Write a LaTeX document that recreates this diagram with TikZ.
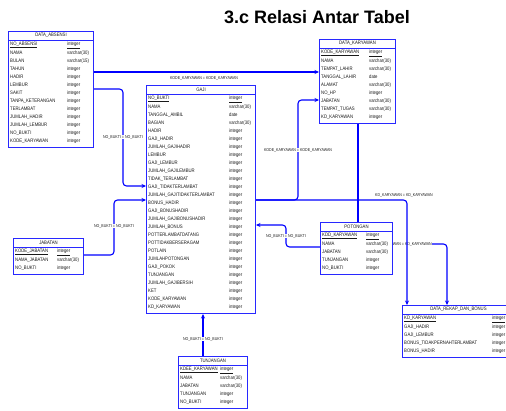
\documentclass[tikz,border=0pt]{standalone}
\usepackage{fontspec}
\setmainfont{Liberation Sans}
\newfontfamily\tf[FakeStretch=0.85]{Liberation Sans}
\usetikzlibrary{arrows.meta,calc,backgrounds}
\definecolor{erblue}{RGB}{0,0,255}
\definecolor{boxblue}{RGB}{40,40,255}
\tikzset{
 tbox/.style={draw=boxblue, line width=1pt, fill=white, inner sep=0pt, rectangle, anchor=north west},
 hline/.style={draw=boxblue, line width=0.7pt},
 cell/.style={font=\tf\fontsize{5}{5}\selectfont, inner sep=0pt, anchor=west, text=black!90},
 head/.style={cell, anchor=center},
 conn/.style={draw=erblue, line width=1.1pt, rounded corners=3.5pt},
 arr/.style={-{Stealth[length=4.5pt,width=4pt]}},
 rel/.style={font=\tf\fontsize{4.2}{4.2}\selectfont, inner sep=0.6pt, text=black!90},
 relbg/.style={rel, fill=white},
 ttl/.style={font=\bfseries\fontsize{18}{18}\selectfont, inner sep=0pt},
}
\newcommand\dbtable[8]{%
  \pgfmathsetmacro\tabh{14+8*(#5-1)+6}
  \node[tbox, minimum width=#4pt, minimum height=\tabh pt] (#1) at (#2,#3) {};
  \draw[hline] ([yshift=-9pt]#1.north west) -- ([yshift=-9pt]#1.north east);
  \node[head] (#1-title) at ([yshift=-4.7pt]#1.north) {#6};
  \foreach [count=\i] \n/\t in {#8} {
    \node[cell] (#1-n\i) at ([xshift=2pt,yshift={-14pt-8pt*(\i-1)}]#1.north west) {\n};
    \node[cell] (#1-t\i) at ([xshift=#7pt,yshift={-14pt-8pt*(\i-1)}]#1.north west) {\t};
  }
}
\begin{document}
\begin{tikzpicture}[x=1pt,y=-1pt]
\useasboundingbox (0,0) rectangle (506,410);

\node[ttl] (title) at (317,17) {3.c Relasi Antar Tabel};

\dbtable{absensi}{8}{31}{85}{13}{DATA\_ABSENSI}{59}{%
 \underline{NO\_ABSENSI}/\underline{integer}, NAMA/varchar(30), BULAN/varchar(15), TAHUN/integer, HADIR/integer, LEMBUR/integer, SAKIT/integer, TANPA\_KETERANGAN/integer, TERLAMBAT/integer, JUMLAH\_HADIR/integer, JUMLAH\_LEMBUR/integer, NO\_BUKTI/integer, KODE\_KARYAWAN/integer}

\dbtable{gaji}{146}{85}{109}{27}{GAJI}{83}{%
 \underline{NO\_BUKTI}/\underline{integer}, NAMA/varchar(30), TANGGAL\_AMBIL/date, BAGIAN/varchar(30), HADIR/integer, GAJI\_HADIR/integer, JUMLAH\_GAJIHADIR/integer, LEMBUR/integer, GAJI\_LEMBUR/integer, JUMLAH\_GAJILEMBUR/integer, TIDAK\_TERLAMBAT/integer, GAJI\_TIDAKTERLAMBAT/integer, JUMLAH\_GAJITIDAKTERLAMBAT/integer, BONUS\_HADIR/integer, GAJI\_BONUSHADIR/integer, JUMLAH\_GAJIBONUSHADIR/integer, JUMLAH\_BONUS/integer, POTTERLAMBATDATANG/integer, POTTIDAKBERSERAGAM/integer, POTLAIN/integer, JUMLAHPOTONGAN/integer, GAJI\_POKOK/integer, TUNJANGAN/integer, JUMLAH\_GAJIBERSIH/integer, KET/integer, KODE\_KARYAWAN/integer, KD\_KARYAWAN/integer}

\dbtable{karyawan}{319}{39}{76}{9}{DATA\_KARYAWAN}{50}{%
 \underline{KODE\_KARYAWAN}/\underline{integer}, NAMA/varchar(30), TEMPAT\_LAHIR/varchar(30), TANGGAL\_LAHIR/date, ALAMAT/varchar(30), NO\_HP/integer, JABATAN/varchar(30), TEMPAT\_TUGAS/varchar(30), KD\_KARYAWAN/integer}

\dbtable{potongan}{320}{222}{72}{5}{POTONGAN}{46}{%
 \underline{KDD\_KARYAWAN}/\underline{integer}, NAMA/varchar(30), JABATAN/varchar(30), TUNJANGAN/integer, NO\_BUKTI/integer}

\dbtable{jabatan}{13}{238}{70}{3}{JABATAN}{44}{%
 \underline{KODE\_JABATAN}/\underline{integer}, NAMA\_JABATAN/varchar(30), NO\_BUKTI/integer}

\dbtable{rekap}{402}{305}{112}{5}{DATA\_REKAP\_DAN\_BONUS}{90}{%
 \underline{KD\_KARYAWAN}/\underline{integer}, GAJI\_HADIR/integer, GAJI\_LEMBUR/integer, BONUS\_TIDAKPERNAHTERLAMBAT/integer, BONUS\_HADIR/integer}

\dbtable{tunjangan}{178}{356}{69}{5}{TUNJANGAN}{42}{%
 \underline{KDEE\_KARYAWAN}/\underline{integer}, NAMA/varchar(30), JABATAN/varchar(30), TUNJANGAN/integer, NO\_BUKTI/integer}

\begin{pgfonlayer}{background}
% POTONGAN -> DATA_REKAP (drawn first: its label lies under later lines and under the POTONGAN box)
\draw[conn,arr] (potongan.east |- 0,244) -- (447,244) -- (rekap.north -| 447,0);
\node[relbg] (l8) at (403,244) {KD\_KARYAWAN = KD\_KARYAWAN};
% DATA_ABSENSI -> DATA_KARYAWAN
\draw[conn,arr] (absensi.east |- 0,72) -- (karyawan.west |- 0,72);
\node[rel] (l1) at (204,78) {KODE\_KARYAWAN = KODE\_KARYAWAN};
% DATA_ABSENSI -> GAJI
\draw[conn,arr] (absensi.east |- 0,89) -- (123,89) -- (123,186) -- (gaji.west |- 0,186);
\node[relbg] (l2) at (123,137) {NO\_BUKTI = NO\_BUKTI};
% JABATAN -> GAJI
\draw[conn,arr] (jabatan.east |- 0,255) -- (114,255) -- (114,200) -- (gaji.west |- 0,200);
\node[relbg] (l3) at (114,226) {NO\_BUKTI = NO\_BUKTI};
% GAJI -> DATA_KARYAWAN
\draw[conn,arr] (gaji.east |- 0,200) -- (298,200) -- (298,100) -- (karyawan.west |- 0,100);
\node[relbg] (l4) at (298,150) {KODE\_KARYAWAN = KODE\_KARYAWAN};
% GAJI -> DATA_REKAP
\draw[conn,arr] (gaji.east |- 0,200) -- (407,200) -- (rekap.north -| 407,0);
\node[rel] (l5) at (404,195) {KD\_KARYAWAN = KD\_KARYAWAN};
% DATA_KARYAWAN - POTONGAN
\draw[conn] (karyawan.south -| 358,0) -- (potongan.north -| 358,0);
% POTONGAN -> GAJI
\draw[conn,arr] (potongan.west |- 0,247) -- (286,247) -- (286,225) -- (gaji.east |- 0,225);
\node[relbg] (l7) at (286,236) {NO\_BUKTI = NO\_BUKTI};
% TUNJANGAN -> GAJI
\draw[conn,arr] (tunjangan.north -| 203,0) -- (gaji.south -| 203,0);
\node[relbg] (l9) at (203,339) {NO\_BUKTI = NO\_BUKTI};
\end{pgfonlayer}
\end{tikzpicture}
\end{document}
